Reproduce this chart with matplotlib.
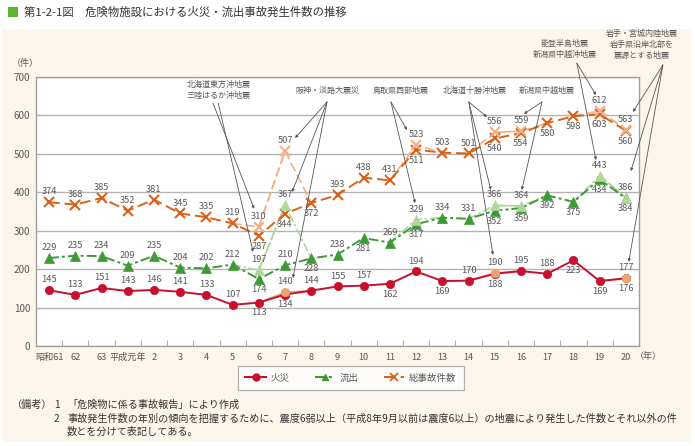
import matplotlib
matplotlib.use("Agg")
import matplotlib.pyplot as plt
from matplotlib.patches import Rectangle
from matplotlib.lines import Line2D
import numpy as np

plt.rcParams['font.family'] = ['Noto Sans CJK JP', 'DejaVu Sans']

# ---------------- data ----------------
years = ['昭和61', '62', '63', '平成元年', '2', '3', '4', '5', '6', '7', '8', '9', '10',
         '11', '12', '13', '14', '15', '16', '17', '18', '19', '20']

# counts excluding large earthquakes
fire  = [145, 133, 151, 143, 146, 141, 133, 107, 113, 134, 144, 155, 157, 162, 194, 169, 170, 188, 195, 188, 223, 169, 176]
flow  = [229, 235, 234, 209, 235, 204, 202, 212, 174, 210, 228, 238, 281, 269, 317, 334, 331, 352, 359, 392, 375, 434, 384]
total = [374, 368, 385, 352, 381, 345, 335, 319, 287, 344, 372, 393, 438, 431, 511, 503, 501, 540, 554, 580, 598, 603, 560]

# counts including large earthquakes (only years with such quakes)
fire_eq  = {9: 140, 17: 190, 22: 177}
flow_eq  = {8: 197, 9: 367, 14: 329, 17: 366, 18: 364, 21: 443, 22: 386}
total_eq = {8: 310, 9: 507, 14: 523, 17: 556, 18: 559, 21: 612, 22: 563}

quake_names = ['北海道東方沖地震\n三陸はるか沖地震', '阪神・淡路大震災', '鳥取県西部地震',
               '北海道十勝沖地震', '新潟県中越地震', '能登半島地震\n新潟県中越沖地震',
               '岩手・宮城内陸地震\n岩手県沿岸北部を\n震源とする地震']

# ---------------- style ----------------
C_FIRE, C_FIRE_L = '#c8102e', '#eaa574'
C_FLOW, C_FLOW_L = '#3d9a37', '#b0d69a'
C_TOT, C_TOT_L = '#d9621b', '#f2b086'
TXT = '#595959'
LS_FLOW = (0, (5, 1.6, 1.5, 1.6))
LS_TOT = (0, (5.5, 2.5))

fig = plt.figure(figsize=(6.95, 4.46), dpi=100)
fig.patch.set_facecolor('white')
W, H = 695, 446
fig.add_artist(Rectangle((2 / W, 1 - 442 / H), 689 / W, 413 / H, transform=fig.transFigure,
                         facecolor='#fcf5e9', edgecolor='none', zorder=-5))
fig.add_artist(Rectangle((8 / W, 1 - 17 / H), 10 / W, 10 / H, transform=fig.transFigure,
                         facecolor='#5bb431', edgecolor='none', zorder=1))
fig.text(24 / W, 1 - 12 / H, '第1-2-1図　危険物施設における火災・流出事故発生件数の推移',
         fontsize=8.2, color='#333333', va='center', ha='left')

ax = fig.add_axes([36 / W, 1 - 346 / H, 603 / W, 269 / H])
ax.set_zorder(2)
ax.set_facecolor('white')
x = np.arange(len(years))
ax.set_xlim(-0.5, len(years) - 0.5)
ax.set_ylim(0, 700)
ax.set_yticks(range(0, 701, 100))
ax.grid(axis='y', color='#b3b3b3', lw=1.0, zorder=1)
for s in ax.spines.values():
    s.set_color('#a0a0a0')
    s.set_linewidth(1.0)
ax.tick_params(axis='y', length=0, labelsize=7.2, labelcolor=TXT, pad=4)
ax.set_xticks(x)
ax.set_xticklabels(years)
ax.tick_params(axis='x', which='major', length=0, labelsize=6.6, labelcolor=TXT, pad=5)
ax.set_xticks(np.arange(0.5, len(years) - 1, 1.0), minor=True)
ax.tick_params(axis='x', which='minor', direction='in', length=4, color='#a0a0a0')


def draw(base, eq, cd, cl, ls, mk, ms):
    ax.plot(x, base, color=cd, ls=ls, lw=1.4, marker=mk, ms=ms, mew=1.5 if mk == 'x' else 0.5,
            mec=cd, mfc=cd, zorder=3)
    for i in eq:
        idx = [j for j in (i - 1, i, i + 1) if 0 <= j < len(base)]
        vals = [eq.get(j, base[j]) for j in idx]
        ax.plot(idx, vals, color=cl, ls=ls, lw=1.2, zorder=2.5)
    ei = sorted(eq)
    ax.plot(ei, [eq[i] for i in ei], ls='none', marker=mk, ms=ms, color=cl, mec=cl, mfc=cl,
            mew=1.5 if mk == 'x' else 0.5, zorder=5)


draw(total, total_eq, C_TOT, C_TOT_L, LS_TOT, 'x', 7)
draw(flow, flow_eq, C_FLOW, C_FLOW_L, LS_FLOW, '^', 7)
draw(fire, fire_eq, C_FIRE, C_FIRE_L, '-', 'o', 6)

# ---------------- value labels ----------------
OFF = 7.5


def lab(xi, v, pos):
    dy = OFF if pos == 'a' else -OFF
    ax.annotate(str(v), (xi, v), xytext=(0, dy), textcoords='offset points', ha='center',
                va='center', fontsize=6.7, color=TXT, zorder=6, annotation_clip=False)


fire_pos = 'aaaaaaaabbaaabababaabbb'
flow_pos = 'aaaaaaaababababaabbbbbb'
tot_pos = 'aaaaaaaabbbaaabaabbbbbb'
for i in x:
    lab(i, fire[i], fire_pos[i])
    lab(i, flow[i], flow_pos[i])
    lab(i, total[i], tot_pos[i])
for d in (fire_eq, flow_eq, total_eq):
    for i, v in d.items():
        lab(i, v, 'a')

# ---------------- quake annotations ----------------
ann = [
    (quake_names[0], (6.48, 666), [(6.25, 632), (6.45, 632)], [(7.82, 357), (7.78, 245)]),
    (quake_names[1], (10.62, 666), [(10.6, 635)] * 3, [(9.38, 541), (9.27, 401), (9.30, 177)]),
    (quake_names[2], (13.42, 666), [(13.04, 635)] * 2, [(13.65, 562), (13.96, 372)]),
    (quake_names[3], (16.24, 666), [(16.01, 635)] * 3, [(16.70, 596), (16.85, 406), (16.93, 237)]),
    (quake_names[4], (18.99, 666), [(18.80, 635)] * 2, [(18.11, 604), (18.03, 406)]),
    (quake_names[5], (19.67, 774), [(20.13, 736)] * 2, [(20.86, 653), (20.86, 484)]),
    (quake_names[6], (22.6, 785), [(23.41, 731)] * 3, [(22.27, 609), (22.19, 455), (22.11, 219)]),
]
for name, tpos, origins, targets in ann:
    ax.text(tpos[0], tpos[1], name, ha='center', va='center', fontsize=5.8, color=TXT,
            linespacing=1.25, clip_on=False, zorder=7)
    for o, t in zip(origins, targets):
        ax.annotate('', xy=t, xytext=o, annotation_clip=False, zorder=7,
                    arrowprops=dict(arrowstyle='-|>', color='#555555', lw=0.6,
                                    mutation_scale=4, shrinkA=0, shrinkB=0))

fig.text(25 / W, 1 - 63 / H, '（件）', fontsize=6.5, color=TXT, ha='center', va='center')
fig.text(648 / W, 1 - 356 / H, '（年）', fontsize=6.5, color=TXT, ha='center', va='center')

# ---------------- legend ----------------
handles = [
    Line2D([], [], color=C_FIRE, ls='-', lw=1.5, marker='o', ms=5, mec=C_FIRE),
    Line2D([], [], color=C_FLOW, ls=LS_FLOW, lw=1.5, marker='^', ms=5, mec=C_FLOW),
    Line2D([], [], color=C_TOT, ls=LS_TOT, lw=1.5, marker='x', ms=6, mew=1.3),
]
leg = fig.legend(handles, ['火災', '流出', '総事故件数'], loc='center', ncol=3,
                 bbox_to_anchor=(351 / W, 1 - 378 / H), fontsize=6.8, frameon=True,
                 fancybox=False, edgecolor='#a0a0a0', handlelength=2.2, columnspacing=2.6,
                 handletextpad=0.5, borderpad=0.8, labelcolor=TXT)
leg.get_frame().set_linewidth(0.9)

# ---------------- notes ----------------
fs = 7.3
fig.text(12 / W, 1 - 405 / H, '（備考）', fontsize=fs, color='#333333', va='center')
fig.text(54 / W, 1 - 405 / H, '1', fontsize=fs, color='#333333', va='center')
fig.text(67 / W, 1 - 405 / H, '「危険物に係る事故報告」により作成', fontsize=fs, color='#333333', va='center')
fig.text(54 / W, 1 - 419 / H, '2', fontsize=fs, color='#333333', va='center')
fig.text(67 / W, 1 - 419 / H,
         '事故発生件数の年別の傾向を把握するために、震度6弱以上（平成8年9月以前は震度6以上）の地震により発生した件数とそれ以外の件',
         fontsize=fs, color='#333333', va='center')
fig.text(67 / W, 1 - 432 / H, '数とを分けて表記してある。', fontsize=fs, color='#333333', va='center')

fig.savefig('out.png', dpi=100)
